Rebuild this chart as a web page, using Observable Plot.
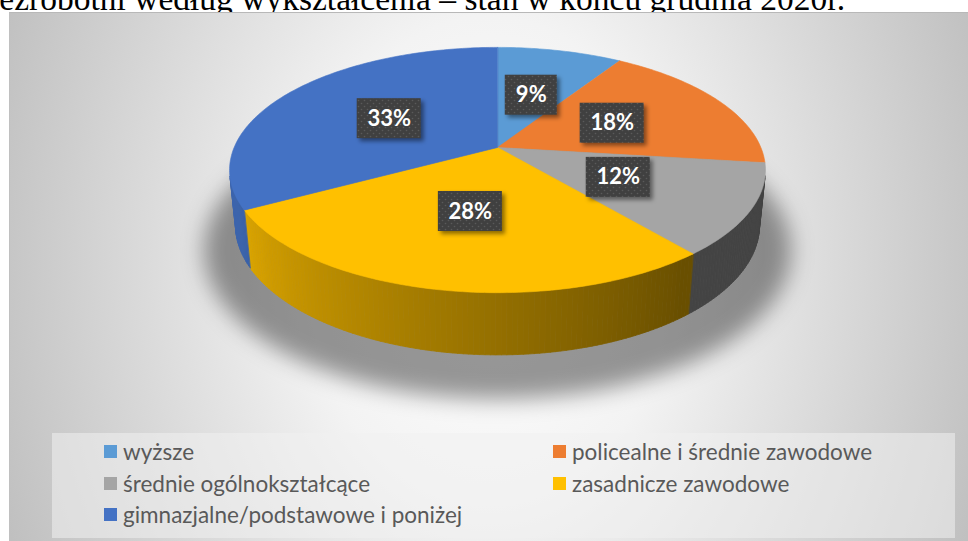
<!DOCTYPE html>
<html>
<head>
<meta charset="utf-8">
<script src="https://cdn.jsdelivr.net/npm/d3@7"></script>
<script src="https://cdn.jsdelivr.net/npm/@observablehq/plot@0.6"></script>
<style>
  html, body { margin: 0; padding: 0; background: #ffffff; }
  body { width: 968px; height: 541px; overflow: hidden; position: relative; }
  #title { position: absolute; left: -23px; top: -18px; font-family: "Liberation Serif", "Times New Roman", serif; font-size: 33.5px; line-height: 34px; color: #000; white-space: nowrap; }
  #box { position: absolute; left: 9px; top: 12px; width: 990px; height: 560px; border-top: 1px solid #b8b8b8; border-left: 1px solid #c0c0c0;
    background: radial-gradient(ellipse 520px 700px at 479px 248px, #ffffff 0%, #f3f3f3 35%, #c0c0c0 100%); }
  #legend { position: absolute; left: 52px; top: 433px; width: 903px; height: 105px; background: rgba(240,240,240,0.55); }
  .item { position: absolute; font-family: Lato, "Open Sans", sans-serif; font-size: 22.5px; line-height: 27px; color: #595959; white-space: nowrap; }
  .sw { position: absolute; width: 13px; height: 13px; }
  #chart { position: absolute; left: 0; top: 0; }
</style>
</head>
<body>
<div id="title">Bezrobotni według wykształcenia – stan w końcu grudnia 2020r.</div>
<div id="box"></div>
<div id="legend"></div>
<div id="chart"></div>
<script>
// ---- data ----
const categories = ["wyższe", "policealne i średnie zawodowe", "średnie ogólnokształcące", "zasadnicze zawodowe", "gimnazjalne/podstawowe i poniżej"];
const shares = [9, 18, 12, 28, 33];
const labels = ["9%", "18%", "12%", "28%", "33%"];
const colors = ["#5B9BD5", "#ED7D31", "#A5A5A5", "#FFC000", "#4472C4"];

// ---- 3D perspective geometry (style constants) ----
const W = 968, Hh = 541;
const CX = 497, CY = 147, F = 1280, DIST = 4.86, SINP = 0.45, COSP = Math.sqrt(1 - SINP * SINP), DEPTH = 0.235;
function proj(r, t, z) {
  const X = r * Math.sin(t), Y = -r * Math.cos(t);
  const d = DIST - (Y * COSP + z * SINP);
  return [CX + X * F / d, CY - (-Y * SINP + z * COSP) * F / d];
}
function shade(hex, k) {
  const c = d3.rgb(hex);
  return d3.rgb(c.r * k, c.g * k, c.b * k).formatHex();
}
function light(t) {
  const deg = t * 180 / Math.PI;
  return Math.max(0.41, Math.min(0.88, 0.40 + (deg - 140) * 0.0045));
}

const arcs = d3.pie().sort(null).value(d => d)(shares);
const STEP = Math.PI / 180;
const tan = Math.acos(1 / (DIST * COSP));
const tR = Math.PI - tan, tL = Math.PI + tan;

// shadow under the pie
const shadowPts = [];
for (let k = 0; k < 360; k++) {
  const [x, y] = proj(1.12, k * STEP, -DEPTH - 0.05);
  shadowPts.push({x, y: y + 8});
}

// side walls (front visible part), split into thin strips for lighting
const wallPts = [];
let sid = 0;
arcs.forEach((p, i) => {
  const a = Math.max(p.startAngle, tR), b = Math.min(p.endAngle, tL);
  if (b <= a) return;
  const n = Math.max(1, Math.ceil((b - a) / STEP));
  for (let k = 0; k < n; k++) {
    const t0 = a + (b - a) * k / n, t1 = a + (b - a) * (k + 1) / n;
    const col = shade(colors[i], light((t0 + t1) / 2));
    [proj(1, t0, 0), proj(1, t1, 0), proj(1, t1, -DEPTH), proj(1, t0, -DEPTH)]
      .forEach(([x, y]) => wallPts.push({s: sid, x, y, c: col}));
    sid++;
  }
});

// top faces
const topPts = [];
arcs.forEach((p, i) => {
  const [vx, vy] = proj(0, 0, 0);
  topPts.push({s: i, x: vx, y: vy, c: colors[i]});
  const n = Math.max(2, Math.ceil((p.endAngle - p.startAngle) / STEP));
  for (let k = 0; k <= n; k++) {
    const t = p.startAngle + (p.endAngle - p.startAngle) * k / n;
    const [x, y] = proj(1, t, 0);
    topPts.push({s: i, x, y, c: colors[i]});
  }
});

// data labels
const labelData = arcs.map((p, i) => {
  const m = (p.startAngle + p.endAngle) / 2;
  const [x, y] = proj(0.5, m, 0);
  const w = labels[i].length > 2 ? 64 : 52;
  return {x, y, x1: x - w / 2, x2: x + w / 2, y1: y - 20, y2: y + 20, t: labels[i]};
});

const svg = Plot.plot({
  width: W, height: Hh,
  margin: 0,
  x: {domain: [0, W], range: [0, W], axis: null},
  y: {domain: [0, Hh], range: [0, Hh], axis: null},
  color: {type: "identity"},
  style: {background: "transparent", overflow: "visible"},
  marks: [
    Plot.line(shadowPts, {x: "x", y: "y", fill: "#000", fillOpacity: 0.4, stroke: "none", curve: "linear-closed"}),
    Plot.line(wallPts, {x: "x", y: "y", z: "s", fill: "c", stroke: "c", strokeWidth: 0.8, curve: "linear-closed"}),
    Plot.line(topPts, {x: "x", y: "y", z: "s", fill: "c", stroke: "c", strokeWidth: 0.6, curve: "linear-closed"}),
    Plot.rect(labelData, {x1: d => d.x1 + 3, x2: d => d.x2 + 3, y1: d => d.y1 + 3, y2: d => d.y2 + 3, fill: "#000", fillOpacity: 0.45}),
    Plot.rect(labelData, {x1: "x1", x2: "x2", y1: "y1", y2: "y2", fill: "#404040"}),
    Plot.text(labelData, {x: "x", y: "y", text: "t", fill: "white", fontSize: 22, fontWeight: "bold", fontFamily: "Lato, 'Open Sans', sans-serif"})
  ]
});

// filters and pattern
const NS = "http://www.w3.org/2000/svg";
const defs = document.createElementNS(NS, "defs");
defs.innerHTML = `
  <filter id="blurS" x="-30%" y="-30%" width="160%" height="160%"><feGaussianBlur stdDeviation="11"/></filter>
  <filter id="blurL" x="-30%" y="-30%" width="160%" height="160%"><feGaussianBlur stdDeviation="2.2"/></filter>
  <pattern id="dots" width="6" height="6" patternUnits="userSpaceOnUse">
    <rect width="6" height="6" fill="#404040"/>
    <circle cx="1.5" cy="1.5" r="0.8" fill="#5a5a5a"/>
    <circle cx="4.5" cy="4.5" r="0.8" fill="#5a5a5a"/>
  </pattern>`;
svg.insertBefore(defs, svg.firstChild);
const lineGroups = svg.querySelectorAll('g[aria-label="line"]');
if (lineGroups[0]) lineGroups[0].setAttribute("filter", "url(#blurS)");
const rectGroups = svg.querySelectorAll('g[aria-label="rect"]');
if (rectGroups[0]) rectGroups[0].setAttribute("filter", "url(#blurL)");
if (rectGroups[1]) rectGroups[1].querySelectorAll("rect").forEach(r => r.setAttribute("fill", "url(#dots)"));
document.getElementById("chart").appendChild(svg);

// legend (HTML) built from the same arrays
const legend = document.getElementById("legend");
const colX = [52, 501];          // swatch x relative to legend box
const rowBase = [25, 57, 88];    // text baseline relative to legend box
categories.forEach((c, i) => {
  const col = i % 2, row = Math.floor(i / 2);
  const sw = document.createElement("div");
  sw.className = "sw";
  sw.style.left = colX[col] + "px";
  sw.style.top = (rowBase[row] - 13) + "px";
  sw.style.background = colors[i];
  legend.appendChild(sw);
  const t = document.createElement("div");
  t.className = "item";
  t.textContent = c;
  t.style.left = (colX[col] + 19) + "px";
  t.style.top = (rowBase[row] - 20) + "px";
  legend.appendChild(t);
});
</script>
</body>
</html>
